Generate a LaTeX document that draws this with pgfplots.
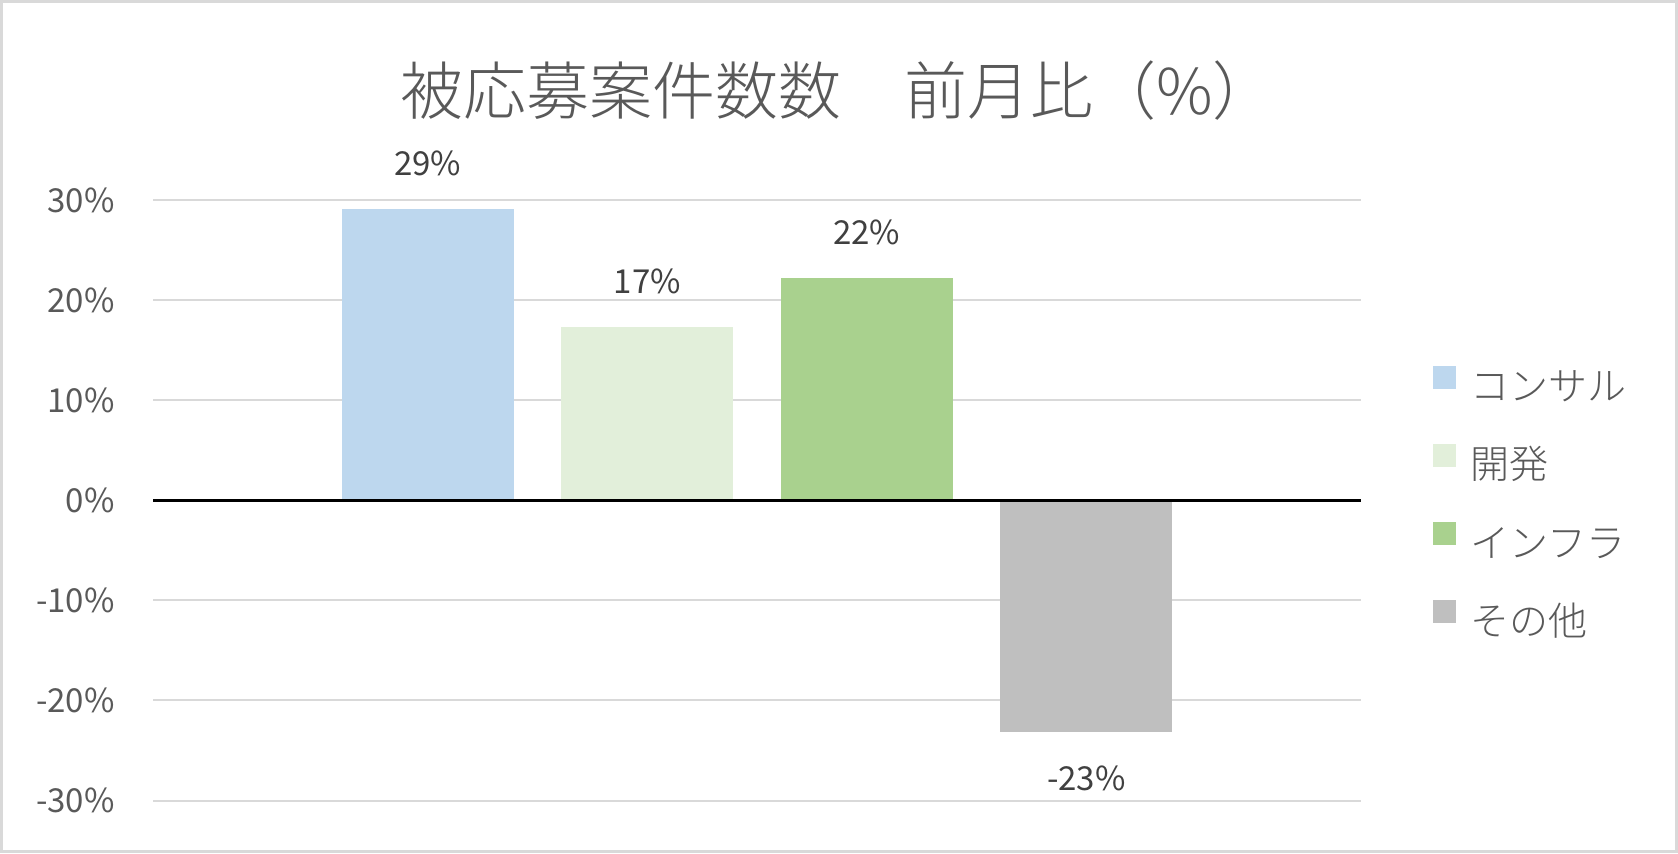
\documentclass[border=0pt]{standalone}
\usepackage{fontspec}
\setmainfont{Noto Sans CJK JP}
\newfontfamily\lightfont{Noto Sans CJK JP Light}
\usepackage{pgfplots}
\pgfplotsset{compat=1.18}
\definecolor{cConsul}{HTML}{BDD7EE}
\definecolor{cDev}{HTML}{E2EFDA}
\definecolor{cInfra}{HTML}{A9D18E}
\definecolor{cOther}{HTML}{BFBFBF}
\definecolor{txt}{HTML}{595959}
\definecolor{lbl}{HTML}{404040}
\definecolor{grd}{HTML}{D9D9D9}
\begin{document}
\begin{tikzpicture}
\useasboundingbox (0,0) rectangle (839pt,426.5pt);
\fill[white] (0,0) rectangle (839pt,426.5pt);
\draw[grd, line width=1.5pt] (0.75pt,0.75pt) rectangle (838.25pt,425.75pt);
\node[txt, font=\lightfont\fontsize{31.5}{38}\selectfont, anchor=center, inner sep=0pt] at (419pt,381pt) {被応募案件数数　前月比（\%）};
\begin{axis}[
  at={(76.5pt,26.25pt)}, anchor=south west,
  scale only axis, width=604pt, height=300.25pt,
  xmin=-0.5, xmax=0.5, ymin=-30, ymax=30,
  ybar=23.75pt, bar width=86pt,
  xtick=\empty,
  ytick={-30,-20,...,30},
  yticklabels={-30\%,-20\%,-10\%,0\%,10\%,20\%,30\%},
  axis line style={draw=none},
  major tick length=0pt,
  ymajorgrids, grid style={grd, line width=1pt},
  y tick label style={txt, font=\fontsize{16.5}{20}\selectfont, anchor=east, inner sep=0pt, xshift=-19pt},
  nodes near coords={\pgfmathprintnumber[fixed,precision=0]{\pgfplotspointmeta}\%},
  every node near coord/.append style={lbl, font=\fontsize{16.5}{20}\selectfont, inner xsep=0pt, inner ysep=16.5pt},
  /pgf/number format/assume math mode=true,
  legend style={at={(1.0596,0.5)}, anchor=west, yshift=-1.65pt, draw=none, fill=none, inner sep=0pt, row sep=18.7pt, column sep=7pt, font=\lightfont\fontsize{19.5}{23}\selectfont, text=txt, nodes={inner sep=0pt, text height=13pt, text depth=3pt}},
  legend cell align=left,
  legend image code/.code={\fill[#1] (0pt,0.9pt) rectangle (11.5pt,12.4pt);},
]
\addplot[fill=cConsul, draw=none] coordinates {(0,29.1)};
\addplot[fill=cDev, draw=none] coordinates {(0,17.3)};
\addplot[fill=cInfra, draw=none] coordinates {(0,22.2)};
\addplot[fill=cOther, draw=none] coordinates {(0,-23.2)};
\legend{コンサル,開発,インフラ,その他}
\draw[black, line width=1.5pt] (rel axis cs:0,0.5) -- (rel axis cs:1,0.5);
\end{axis}
\end{tikzpicture}
\end{document}
